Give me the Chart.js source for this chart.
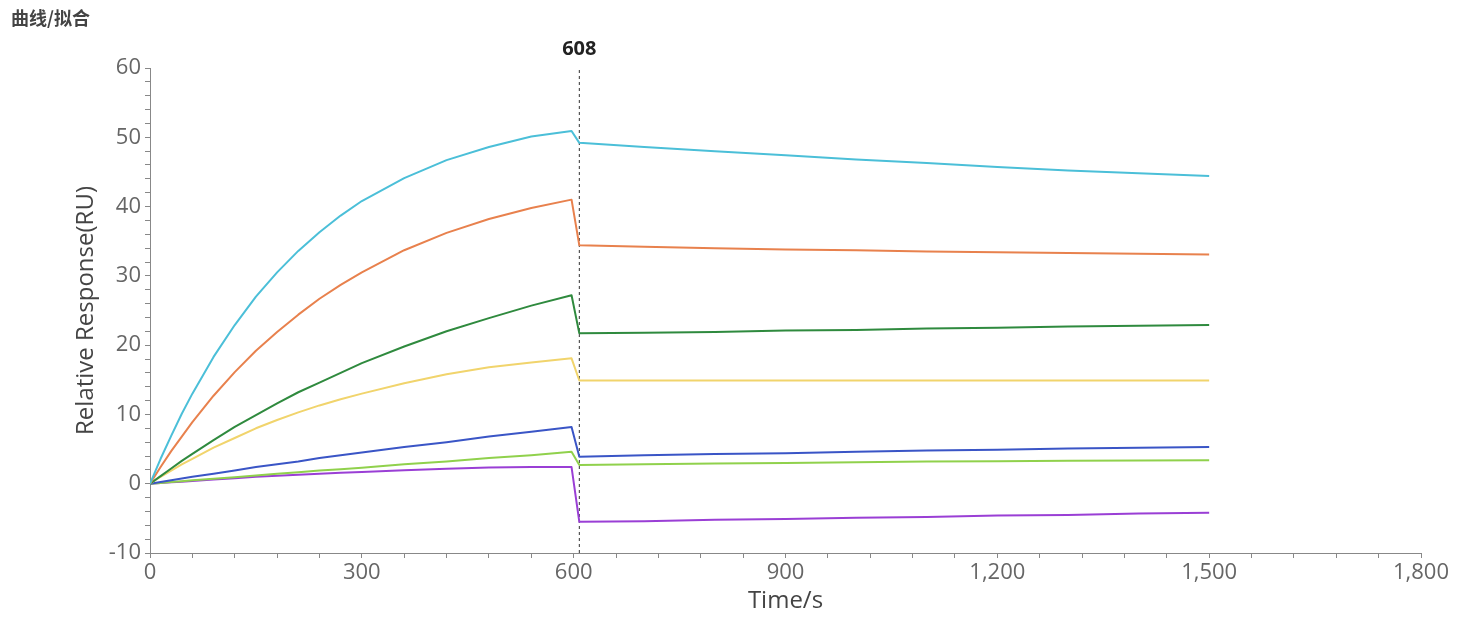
<!DOCTYPE html>
<html>
<head>
<meta charset="utf-8">
<script src="https://cdn.jsdelivr.net/npm/chart.js@4"></script>
<style>
  body { margin: 0; background: #fff; }
  canvas { display: block; }
</style>
</head>
<body>
<canvas id="sprChart" width="1471" height="621"></canvas>
<script>
// time points (s) shared by every curve
var times = [0, 15, 30, 45, 60, 90, 120, 150, 180, 210, 240, 270, 300, 360, 420, 480, 540, 597,
             608, 700, 800, 900, 1000, 1100, 1200, 1300, 1400, 1500];

// responses (RU)
var cyan = [0, 3.6, 6.9, 10.1, 13.0, 18.3, 22.9, 27.0, 30.5, 33.6, 36.3, 38.7, 40.8, 44.1, 46.7, 48.6, 50.1, 50.9,
            49.2, 48.6, 48.0, 47.4, 46.8, 46.3, 45.7, 45.2, 44.8, 44.4];
var orange = [0, 2.4, 4.7, 6.8, 8.9, 12.7, 16.1, 19.2, 21.9, 24.4, 26.7, 28.7, 30.5, 33.7, 36.2, 38.2, 39.8, 41.0,
              34.4, 34.2, 34.0, 33.8, 33.7, 33.5, 33.4, 33.3, 33.2, 33.1];
var darkGreen = [0, 1.1, 2.2, 3.3, 4.3, 6.3, 8.2, 9.9, 11.6, 13.2, 14.6, 16.0, 17.4, 19.8, 22.0, 23.9, 25.7, 27.2,
                 21.7, 21.8, 21.9, 22.1, 22.2, 22.4, 22.5, 22.7, 22.8, 22.9];
var yellow = [0, 1.0, 1.9, 2.8, 3.6, 5.2, 6.6, 8.0, 9.2, 10.3, 11.3, 12.2, 13.0, 14.5, 15.8, 16.8, 17.5, 18.1,
              14.9, 14.9, 14.9, 14.9, 14.9, 14.9, 14.9, 14.9, 14.9, 14.9];
var blue = [0, 0.25, 0.5, 0.75, 1.0, 1.45, 1.9, 2.4, 2.8, 3.2, 3.7, 4.1, 4.5, 5.3, 6.0, 6.8, 7.5, 8.2,
            3.9, 4.1, 4.3, 4.4, 4.6, 4.8, 4.9, 5.1, 5.2, 5.3];
var lightGreen = [0, 0.12, 0.25, 0.37, 0.5, 0.72, 0.95, 1.2, 1.45, 1.65, 1.9, 2.1, 2.3, 2.8, 3.2, 3.7, 4.1, 4.6,
                  2.7, 2.8, 2.9, 3.0, 3.1, 3.2, 3.25, 3.3, 3.35, 3.4];
var purple = [0, 0.1, 0.2, 0.3, 0.4, 0.6, 0.8, 1.0, 1.15, 1.3, 1.45, 1.6, 1.7, 1.95, 2.15, 2.35, 2.4, 2.4,
              -5.5, -5.4, -5.2, -5.1, -4.9, -4.8, -4.6, -4.5, -4.3, -4.2];

// cursor line
var cursorTime = 608;
var yRange = [-10, 60];

var xMajor = 300;
var yMajor = 10;

const toPoints = (values) => times.map((t, i) => ({ x: t, y: values[i] }));

const curve = (values, color) => ({
    data: toPoints(values),
    borderColor: color,
    borderWidth: 2,
    borderJoinStyle: 'round',
    pointRadius: 0,
    tension: 0,
    fill: false
});

// title and cursor label
const textPlugin = {
    id: 'textPlugin',
    afterDraw(chart) {
        const ctx = chart.ctx;
        ctx.save();
        ctx.fillStyle = '#444';
        ctx.font = 'bold 18px "Noto Sans CJK SC"';
        ctx.textAlign = 'left';
        ctx.textBaseline = 'middle';
        ctx.fillText('曲线/拟合', 11, 18);

        ctx.fillStyle = '#222';
        ctx.font = 'bold 20px "Open Sans"';
        ctx.textAlign = 'center';
        ctx.fillText(String(cursorTime), chart.scales.x.getPixelForValue(cursorTime), 49);
        ctx.restore();
    }
};

const ctx = document.getElementById('sprChart').getContext('2d');
new Chart(ctx, {
    type: 'line',
    data: {
        datasets: [
            curve(cyan, '#4bbfd8'),
            curve(orange, '#e8814d'),
            curve(darkGreen, '#2f8a3e'),
            curve(yellow, '#f1d46c'),
            curve(blue, '#3a55c6'),
            curve(lightGreen, '#90d14c'),
            curve(purple, '#9a3fd5'),
            {
                data: [{ x: cursorTime, y: yRange[0] }, { x: cursorTime, y: yRange[1] }],
                borderColor: '#333',
                borderWidth: 1,
                borderDash: [3, 3],
                pointRadius: 0,
                fill: false
            }
        ]
    },
    options: {
        responsive: false,
        animation: false,
        devicePixelRatio: 1,
        layout: { padding: { left: 68, top: 68, right: 50, bottom: 0 } },
        plugins: {
            legend: { display: false },
            tooltip: { enabled: false }
        },
        scales: {
            x: {
                type: 'linear',
                min: 0,
                max: 1800,
                afterFit: (scale) => { scale.height = 68; },
                border: { color: '#888', width: 1 },
                grid: { drawOnChartArea: false, tickLength: 5, tickColor: '#888' },
                ticks: {
                    stepSize: 60,
                    autoSkip: false,
                    maxRotation: 0,
                    padding: 2,
                    color: '#666',
                    font: { family: '"Open Sans"', size: 22 },
                    callback: (v) => v % xMajor === 0 ? v.toLocaleString('en-US') : ''
                },
                title: {
                    display: true,
                    text: 'Time/s',
                    color: '#444',
                    padding: { top: 0, bottom: 5 },
                    font: { family: '"Open Sans"', size: 24 }
                }
            },
            y: {
                min: yRange[0],
                max: yRange[1],
                afterFit: (scale) => { scale.width = 82; },
                border: { color: '#888', width: 1 },
                grid: { drawOnChartArea: false, tickLength: 5, tickColor: '#888' },
                ticks: {
                    stepSize: 2,
                    autoSkip: false,
                    padding: 4,
                    color: '#666',
                    font: { family: '"Open Sans"', size: 22 },
                    callback: (v) => v % yMajor === 0 ? String(v) : ''
                },
                title: {
                    display: true,
                    text: 'Relative Response(RU)',
                    color: '#444',
                    padding: { top: 4, bottom: 0 },
                    font: { family: '"Open Sans"', size: 24 }
                }
            }
        }
    },
    plugins: [textPlugin]
});
</script>
</body>
</html>
